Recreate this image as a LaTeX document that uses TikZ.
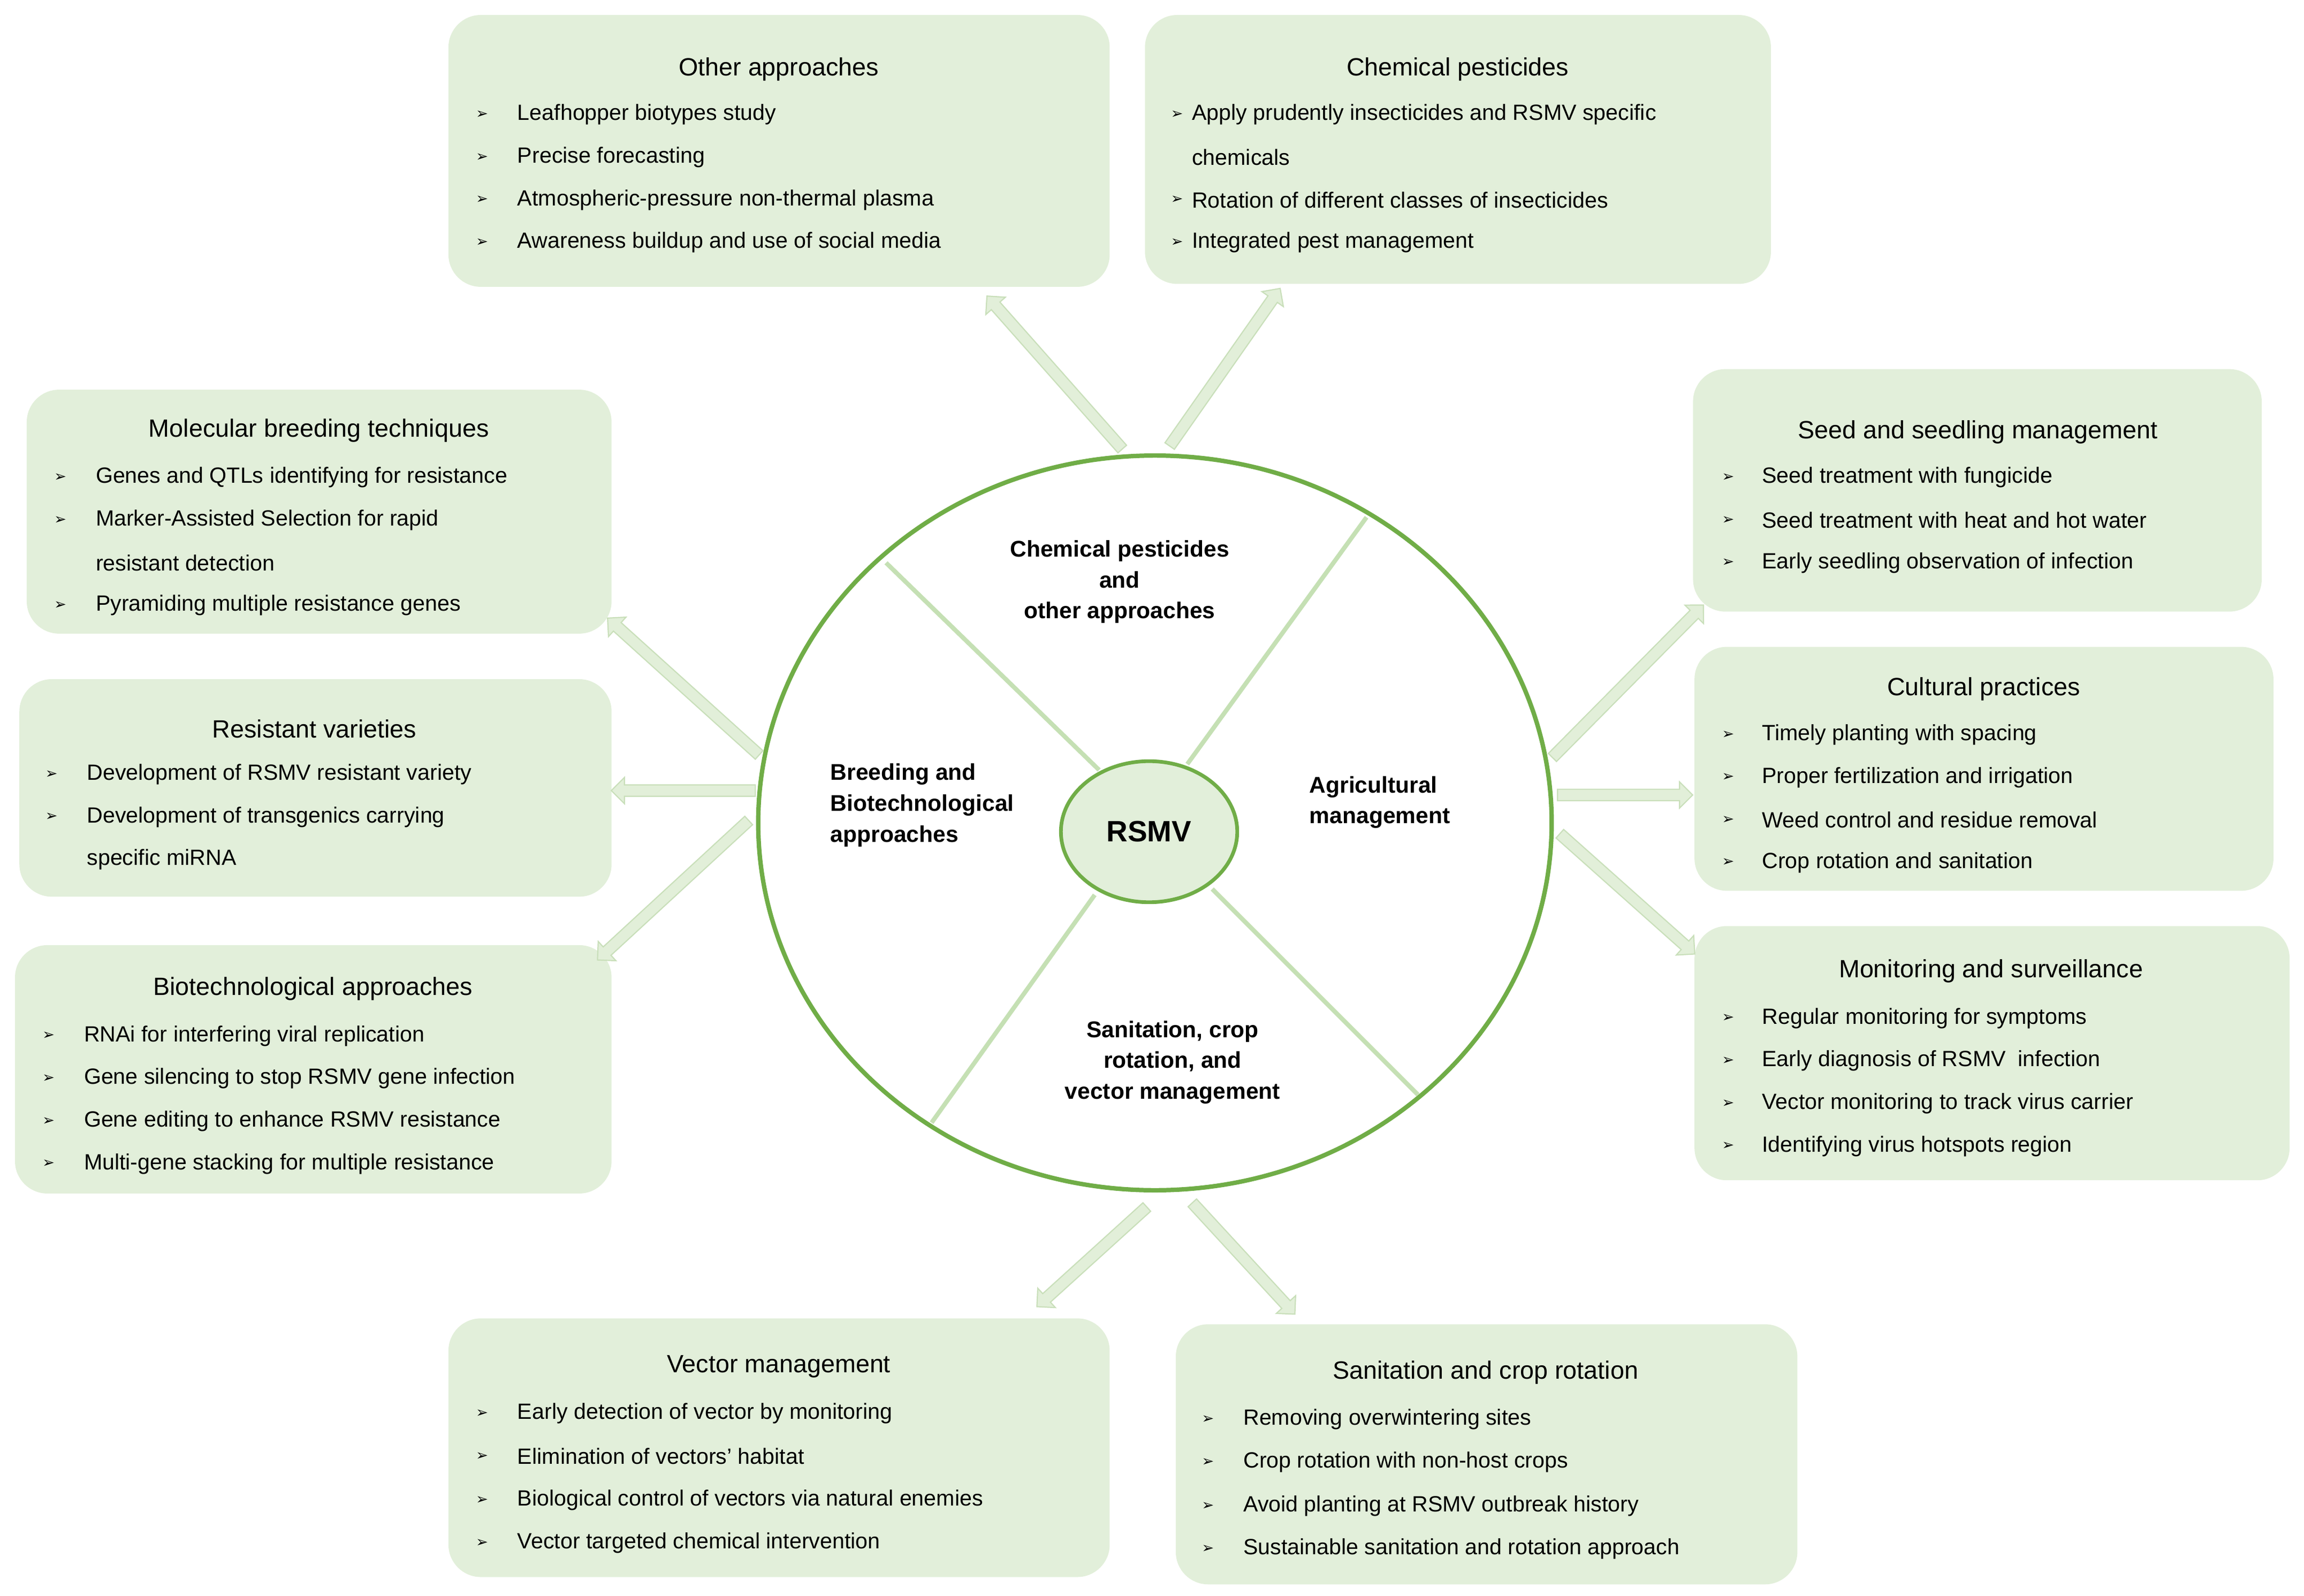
\documentclass[tikz,border=0pt]{standalone}
\usepackage{fontspec}
\setmainfont{Liberation Sans}
\newfontfamily\djv{DejaVu Sans}
\usetikzlibrary{shapes.arrows,shapes.geometric}
\definecolor{boxfill}{HTML}{E2EFDA}
\definecolor{ringc}{HTML}{70AD47}
\definecolor{divc}{HTML}{C5E0B4}
\definecolor{arrfill}{HTML}{E2EFD9}
\definecolor{arredge}{HTML}{C9DFBA}
\tikzset{
 box/.style={fill=boxfill,draw=none,rounded corners=22pt,anchor=north west,inner sep=0},
 ttl/.style={font=\fontsize{17}{20}\selectfont,anchor=center,inner sep=0},
 itm/.style={font=\fontsize{15}{18}\selectfont,anchor=west,inner sep=0},
 bul/.style={font=\djv\fontsize{10}{12}\selectfont,anchor=center,inner sep=0},
 lbl/.style={font=\bfseries\fontsize{15.5}{21}\selectfont,inner sep=0,align=center},
 arr/.style={single arrow,fill=arrfill,draw=arredge,line width=0.8pt,inner sep=3.5pt,
   single arrow head extend=5pt,single arrow head indent=0pt,shape border uses incircle=false},
}
\newcounter{itc}
\newcommand\bitem[4]{\stepcounter{itc}\node[bul] (b\theitc) at (#1,#3) {➢};\node[itm] (t\theitc) at (#2,#3) {#4};}
\newcommand\cont[3]{\stepcounter{itc}\node[itm] (t\theitc) at (#1,#2) {#3};}
\begin{document}
\begin{tikzpicture}[x=1pt,y=-1pt]
\useasboundingbox (0,0) rectangle (1568,1086);
% boxes
\node[box,minimum width=450,minimum height=185] (oth) at (305,10) {};
\node[box,minimum width=426,minimum height=183] (chem) at (779,10) {};
\node[box,minimum width=398,minimum height=166] (mol) at (18,265) {};
\node[box,minimum width=403,minimum height=148] (res) at (13,462) {};
\node[box,minimum width=406,minimum height=169] (bio) at (10,643) {};
\node[box,minimum width=387,minimum height=165] (seed) at (1152,251) {};
\node[box,minimum width=394,minimum height=166] (cul) at (1153,440) {};
\node[box,minimum width=405,minimum height=173] (mon) at (1153,630) {};
\node[box,minimum width=450,minimum height=176] (vec) at (305,897) {};
\node[box,minimum width=423,minimum height=177] (san) at (800,901) {};
% titles
\node[ttl] (oth-t) at (530,47) {Other approaches};
\node[ttl] (chem-t) at (992,47) {Chemical pesticides};
\node[ttl] (mol-t) at (217,293) {Molecular breeding techniques};
\node[ttl] (res-t) at (214,496) {Resistant varieties};
\node[ttl] (bio-t) at (213,673) {Biotechnological approaches};
\node[ttl] (seed-t) at (1346,294) {Seed and seedling management};
\node[ttl] (cul-t) at (1350,469) {Cultural practices};
\node[ttl] (mon-t) at (1355,661) {Monitoring and surveillance};
\node[ttl] (vec-t) at (530,930) {Vector management};
\node[ttl] (san-t) at (1011,934) {Sanitation and crop rotation};
% items
\bitem{328}{352}{78}{Leafhopper biotypes study}
\bitem{328}{352}{107}{Precise forecasting}
\bitem{328}{352}{136}{Atmospheric-pressure non-thermal plasma}
\bitem{328}{352}{165}{Awareness buildup and use of social media}
\bitem{801}{811}{78}{Apply prudently insecticides and RSMV specific}
\cont{811}{107}{chemicals}
\bitem{801}{811}{136}{Rotation of different classes of insecticides}
\bitem{801}{811}{165}{Integrated pest management}
\bitem{41}{65}{325}{Genes and QTLs identifying for resistance}
\bitem{41}{65}{354}{Marker-Assisted Selection for rapid}
\cont{65}{383}{resistant detection}
\bitem{41}{65}{412}{Pyramiding multiple resistance genes}
\bitem{35}{59}{527}{Development of RSMV resistant variety}
\bitem{35}{59}{556}{Development of transgenics carrying}
\cont{59}{585}{specific miRNA}
\bitem{33}{57}{705}{RNAi for interfering viral replication}
\bitem{33}{57}{734}{Gene silencing to stop RSMV gene infection}
\bitem{33}{57}{763}{Gene editing to enhance RSMV resistance}
\bitem{33}{57}{792}{Multi-gene stacking for multiple resistance}
\bitem{1176}{1199}{325}{Seed treatment with fungicide}
\bitem{1176}{1199}{354}{Seed treatment with heat and hot water}
\bitem{1176}{1199}{383}{Early seedling observation of infection}
\bitem{1176}{1199}{500}{Timely planting with spacing}
\bitem{1176}{1199}{529}{Proper fertilization and irrigation}
\bitem{1176}{1199}{558}{Weed control and residue removal}
\bitem{1176}{1199}{587}{Crop rotation and sanitation}
\bitem{1176}{1199}{693}{Regular monitoring for symptoms}
\bitem{1176}{1199}{722}{Early diagnosis of RSMV\ \ infection}
\bitem{1176}{1199}{751}{Vector monitoring to track virus carrier}
\bitem{1176}{1199}{780}{Identifying virus hotspots region}
\bitem{328}{352}{962}{Early detection of vector by monitoring}
\bitem{328}{352}{991}{Elimination of vectors’ habitat}
\bitem{328}{352}{1021}{Biological control of vectors via natural enemies}
\bitem{328}{352}{1050}{Vector targeted chemical intervention}
\bitem{822}{846}{966}{Removing overwintering sites}
\bitem{822}{846}{995}{Crop rotation with non-host crops}
\bitem{822}{846}{1025}{Avoid planting at RSMV outbreak history}
\bitem{822}{846}{1054}{Sustainable sanitation and rotation approach}
% circle
\node[ellipse,draw=ringc,line width=3pt,fill=white,minimum width=540,minimum height=500,inner sep=0] (ring) at (786,560) {};
\coordinate (d1a) at (748,524); \coordinate (d1b) at (603,383);
\coordinate (d2a) at (808,520); \coordinate (d2b) at (930,352);
\coordinate (d3a) at (745,609); \coordinate (d3b) at (634,764);
\coordinate (d4a) at (825,605); \coordinate (d4b) at (965,745);
\draw[divc,line width=3pt] (d1a) -- (d1b);
\draw[divc,line width=3pt] (d2a) -- (d2b);
\draw[divc,line width=3pt] (d3a) -- (d3b);
\draw[divc,line width=3pt] (d4a) -- (d4b);
\node[ellipse,draw=ringc,line width=2.5pt,fill=boxfill,minimum width=120,minimum height=96,inner sep=0,font=\bfseries\fontsize{20}{24}\selectfont] (rsmv) at (782,566) {RSMV};
\node[lbl] (l1) at (762,396) {Chemical pesticides\\and\\other approaches};
\node[lbl,align=left,anchor=west] (l2) at (565,548) {Breeding and\\Biotechnological\\approaches};
\node[lbl,align=left,anchor=west] (l3) at (891,546) {Agricultural\\management};
\node[lbl] (l4) at (798,723) {Sanitation, crop\\rotation, and\\vector management};
% arrows
\coordinate (a1s) at (765,307); \coordinate (a1e) at (673,203);
\coordinate (a2s) at (795,305); \coordinate (a2e) at (870,198);
\coordinate (a3s) at (518,515); \coordinate (a3e) at (415,422);
\coordinate (a4s) at (516,538); \coordinate (a4e) at (418,538);
\coordinate (a5s) at (511,557); \coordinate (a5e) at (408,652);
\coordinate (a6s) at (1055,517); \coordinate (a6e) at (1158,413);
\coordinate (a7s) at (1058,541); \coordinate (a7e) at (1150,541);
\coordinate (a8s) at (1060,566); \coordinate (a8e) at (1152,648);
\coordinate (a9s) at (782,820); \coordinate (a9e) at (707,888);
\coordinate (a10s) at (810,817); \coordinate (a10e) at (880,893);
\path (a1s) -- (a1e) node[midway,sloped,allow upside down,arr,minimum height=139] (ar1) {};
\path (a2s) -- (a2e) node[midway,sloped,allow upside down,arr,minimum height=131] (ar2) {};
\path (a3s) -- (a3e) node[midway,sloped,allow upside down,arr,minimum height=139] (ar3) {};
\path (a4s) -- (a4e) node[midway,sloped,allow upside down,arr,minimum height=98] (ar4) {};
\path (a5s) -- (a5e) node[midway,sloped,allow upside down,arr,minimum height=140] (ar5) {};
\path (a6s) -- (a6e) node[midway,sloped,allow upside down,arr,minimum height=146] (ar6) {};
\path (a7s) -- (a7e) node[midway,sloped,allow upside down,arr,minimum height=92] (ar7) {};
\path (a8s) -- (a8e) node[midway,sloped,allow upside down,arr,minimum height=123] (ar8) {};
\path (a9s) -- (a9e) node[midway,sloped,allow upside down,arr,minimum height=101] (ar9) {};
\path (a10s) -- (a10e) node[midway,sloped,allow upside down,arr,minimum height=103] (ar10) {};
\end{tikzpicture}
\end{document}
